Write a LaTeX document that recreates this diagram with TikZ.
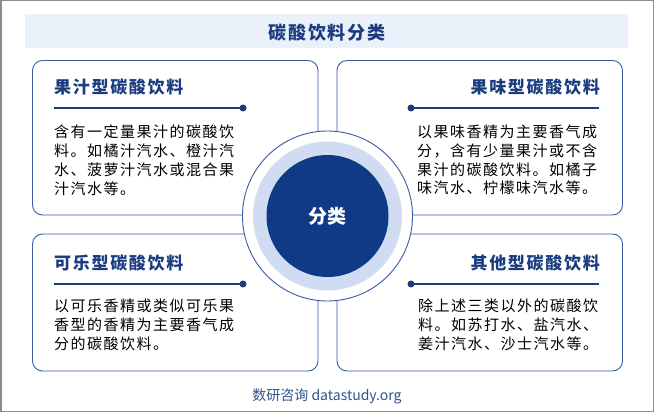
\documentclass[tikz,border=0pt]{standalone}
\usepackage{fontspec}
\newfontfamily\cjk{Noto Sans CJK SC}
\newfontfamily\cjkb{Noto Sans CJK SC}[LetterSpace=10]
\newfontfamily\cjkbody{Noto Sans CJK SC}[LetterSpace=10]
\definecolor{titleblue}{HTML}{1B3D80}
\definecolor{darkblue}{HTML}{103A85}
\definecolor{ringblue}{HTML}{D0DCF2}
\definecolor{bandblue}{HTML}{EAF1FB}
\definecolor{boxline}{HTML}{3A5CA0}
\definecolor{footblue}{HTML}{2F528F}
\tikzset{
  card/.style={draw=boxline, line width=0.9pt, rounded corners=10pt, fill=white},
  cardtitle/.style={inner sep=0pt, text=titleblue, font=\cjkb\bfseries\fontsize{17}{20}\selectfont},
  bodytext/.style={inner sep=0pt, align=left, anchor=north west, text=black, font=\cjkbody\fontsize{15}{18.7}\selectfont},
  rule/.style={draw=titleblue, line width=1.1pt},
  dotmark/.style={circle, fill=titleblue, inner sep=0pt, minimum size=7pt},
}
\begin{document}
\begin{tikzpicture}[x=1pt,y=-1pt]
\useasboundingbox (0,0) rectangle (654,412);
\draw[draw=gray!90, line width=1.5pt] (0.75,0.75) rectangle (653.25,411.25);
% title band
\fill[bandblue] (25,14) rectangle (628,48);
\node[inner sep=0pt, text=titleblue, font=\cjkb\bfseries\fontsize{18}{21}\selectfont] (title) at (327,32.5) {碳酸饮料分类};
% cards
\draw[card] (32.5,60.5) rectangle (318,215) ;
\draw[card] (337,60.5) rectangle (622.5,215);
\draw[card] (32.5,234) rectangle (318,371);
\draw[card] (337,234) rectangle (622.5,371);
% top-left
\node[cardtitle, anchor=west] (t1) at (54,87) {果汁型碳酸饮料};
\coordinate (l1a) at (54,108);
\node[dotmark] (d1) at (243,108) {};
\draw[rule] (l1a) -- (d1.center);
\node[bodytext] (b1) at (54,125) {含有一定量果汁的碳酸饮\\料。如橘汁汽水、橙汁汽\\水、菠萝汁汽水或混合果\\汁汽水等。};
% top-right
\node[cardtitle, anchor=east] (t2) at (600,87) {果味型碳酸饮料};
\coordinate (l2b) at (599,108);
\node[dotmark] (d2) at (411,108) {};
\draw[rule] (d2.center) -- (l2b);
\node[bodytext] (b2) at (417,125) {以果味香精为主要香气成\\分，含有少量果汁或不含\\果汁的碳酸饮料。如橘子\\味汽水、柠檬味汽水等。};
% bottom-left
\node[cardtitle, anchor=west] (t3) at (54,263) {可乐型碳酸饮料};
\coordinate (l3a) at (54,284);
\node[dotmark] (d3) at (243,284) {};
\draw[rule] (l3a) -- (d3.center);
\node[bodytext] (b3) at (54,299) {以可乐香精或类似可乐果\\香型的香精为主要香气成\\分的碳酸饮料。};
% bottom-right
\node[cardtitle, anchor=east] (t4) at (600,263) {其他型碳酸饮料};
\coordinate (l4b) at (599,284);
\node[dotmark] (d4) at (411,284) {};
\draw[rule] (d4.center) -- (l4b);
\node[bodytext] (b4) at (418,299) {除上述三类以外的碳酸饮\\料。如苏打水、盐汽水、\\姜汁汽水、沙士汽水等。};
% center circle
\node[circle, draw=boxline, line width=0.9pt, fill=white, minimum size=170pt, inner sep=0pt] (outer) at (327.5,216) {};
\node[circle, fill=ringblue, minimum size=149pt, inner sep=0pt] (ring) at (outer.center) {};
\node[circle, fill=darkblue, minimum size=122pt, inner sep=0pt, text=white, font=\cjk\bfseries\fontsize{19}{22}\selectfont] (core) at (outer.center) {分类};
% footer
\node[inner sep=0pt, text=footblue, font=\cjk\fontsize{14}{16}\selectfont] (foot) at (327,396) {数研咨询 datastudy.org};
\end{tikzpicture}
\end{document}
